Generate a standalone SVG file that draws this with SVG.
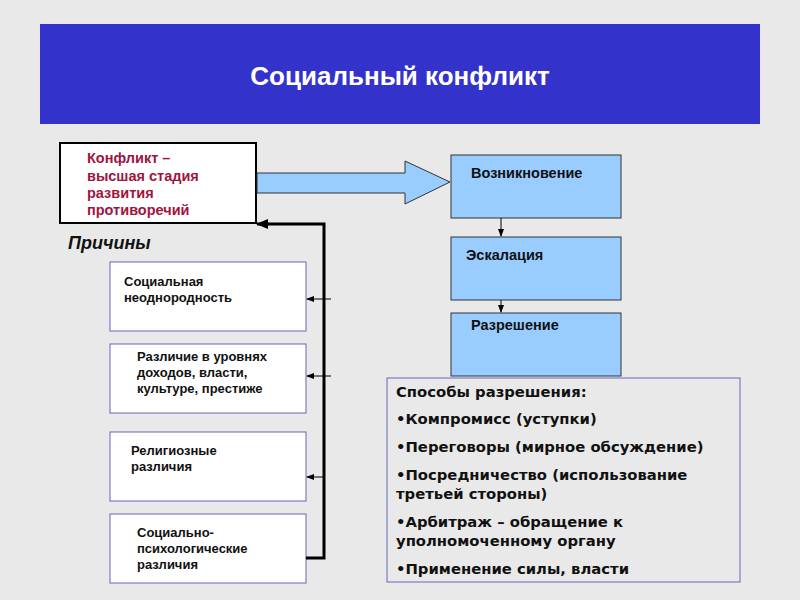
<svg xmlns="http://www.w3.org/2000/svg" width="800" height="600" viewBox="0 0 800 600">
<style>
text{font-family:"Liberation Sans",Arial,sans-serif;font-weight:bold;font-size:13px;fill:#111}
.cause{fill:#fff;stroke:#6666bb;stroke-width:1}
.stage{fill:#99ccff;stroke:#333;stroke-width:1}
.st{font-size:14.5px}
.c{font-size:14.5px;fill:#a0153e}
.m{font-family:"DejaVu Sans",Verdana,sans-serif;font-size:14.8px}
</style>
<defs>
<marker id="ah" markerWidth="8" markerHeight="8" refX="7" refY="4" orient="auto" markerUnits="userSpaceOnUse"><path d="M0,1 L8,4 L0,7 z" fill="#000"/></marker>
<marker id="ahb" markerWidth="12" markerHeight="10" refX="11" refY="5" orient="auto" markerUnits="userSpaceOnUse"><path d="M0,0 L12,5 L0,10 z" fill="#000"/></marker>
</defs>
<rect width="800" height="600" fill="#e9e9e9"/>
<g id="title"><rect x="40" y="24" width="720" height="100" fill="#3333cc"/>
<text x="400" y="85" text-anchor="middle" style="font-size:26px;fill:#fff">Социальный конфликт</text></g>
<g id="conflict"><rect x="60" y="143" width="196" height="80" fill="#fff" stroke="#000" stroke-width="2"/>
<text class="c" x="87" y="163">Конфликт –</text>
<text class="c" x="87" y="181">высшая стадия</text>
<text class="c" x="87" y="198">развития</text>
<text class="c" x="87" y="215">противоречий</text></g>
<g id="bigarrow"><path d="M257,173 H405 V161 L450,182 L405,204 V193 H257 z" fill="#99ccff" stroke="#333" stroke-width="1"/></g>
<g id="stage1"><rect class="stage" x="451" y="155" width="170" height="63"/><text class="st" x="471" y="178">Возникновение</text></g>
<g id="stage2"><rect class="stage" x="451" y="237" width="170" height="63"/><text class="st" x="466" y="260">Эскалация</text></g>
<g id="stage3"><rect class="stage" x="451" y="313" width="170" height="63"/><text class="st" x="471" y="330">Разрешение</text></g>
<text x="68" y="249" style="font-size:18px;font-style:italic">Причины</text>
<g id="cause1"><rect class="cause" x="110" y="262" width="196" height="69"/><text x="124" y="286">Социальная</text><text x="124" y="302">неоднородность</text></g>
<g id="cause2"><rect class="cause" x="110" y="344" width="196" height="69"/><text x="137" y="361">Различие в уровнях</text><text x="137" y="377">доходов, власти,</text><text x="137" y="393">культуре, престиже</text></g>
<g id="cause3"><rect class="cause" x="110" y="432" width="196" height="69"/><text x="131" y="455">Религиозные</text><text x="131" y="471">различия</text></g>
<g id="cause4"><rect class="cause" x="110" y="514" width="196" height="69"/><text x="137" y="537">Социально-</text><text x="137" y="553">психологические</text><text x="137" y="569">различия</text></g>
<g id="methods"><rect x="387" y="378" width="353" height="204" fill="none" stroke="#6666bb"/>
<text class="m" x="396" y="397">Способы разрешения:</text>
<text class="m" x="396" y="424">•Компромисс (уступки)</text>
<text class="m" x="396" y="452">•Переговоры (мирное обсуждение)</text>
<text class="m" x="396" y="480">•Посредничество (использование</text>
<text class="m" x="396" y="499">третьей стороны)</text>
<text class="m" x="396" y="527">•Арбитраж – обращение к</text>
<text class="m" x="396" y="546">уполномоченному органу</text>
<text class="m" x="396" y="574">•Применение силы, власти</text></g>
<g id="connectors" stroke="#000" fill="none">
<line x1="501" y1="218" x2="501" y2="236" marker-end="url(#ah)"/>
<line x1="501" y1="300" x2="501" y2="312" marker-end="url(#ah)"/>
<path d="M306,558 H324 V224 H257" stroke-width="3" marker-end="url(#ahb)"/>
<line x1="331" y1="299" x2="307" y2="299" marker-end="url(#ah)"/>
<line x1="331" y1="376" x2="307" y2="376" marker-end="url(#ah)"/>
<line x1="324" y1="477" x2="307" y2="477" marker-end="url(#ah)"/>
</g>
</svg>
